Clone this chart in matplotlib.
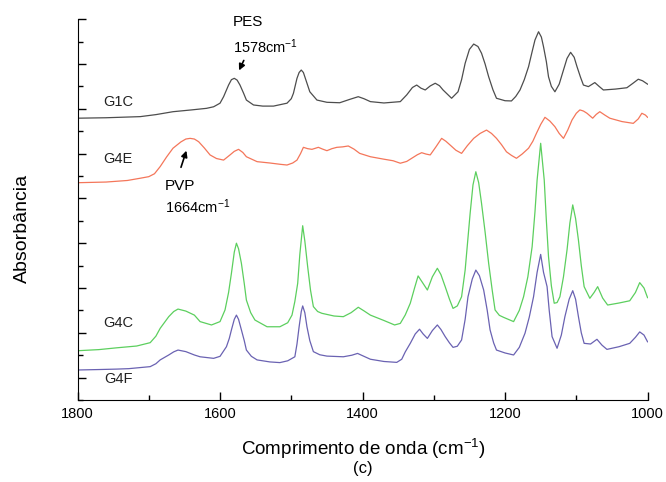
import matplotlib
matplotlib.use('Agg')
import matplotlib.pyplot as plt
from matplotlib.ticker import MultipleLocator

#+++++++++++++++++++++++++++++++++++++++++++++++++++++++++++++++++++++++++++++#

plt.rcParams['font.family'] = ['Liberation Sans', 'DejaVu Sans']
plt.rcParams['mathtext.default'] = 'regular'

# wavenumber (cm-1) and absorbance (stacked, arbitrary units)
wn_g1c = [1800, 1760, 1712, 1690, 1666, 1640, 1619, 1609, 1600, 1595,
          1588, 1584, 1580, 1576, 1572, 1567, 1563, 1553, 1540, 1525,
          1506, 1500, 1497, 1492, 1489, 1486, 1483, 1481, 1474, 1464,
          1450, 1432, 1418, 1406, 1398, 1389, 1370, 1347, 1338, 1330,
          1324, 1318, 1312, 1305, 1298, 1292, 1287, 1275, 1266, 1261,
          1256, 1250, 1244, 1238, 1233, 1228, 1223, 1217, 1212, 1200,
          1191, 1185, 1179, 1173, 1167, 1162, 1158, 1153, 1149, 1146,
          1142, 1139, 1135, 1130, 1124, 1118, 1113, 1108, 1103, 1099,
          1094, 1090, 1083, 1074, 1068, 1062, 1045, 1029, 1020, 1013,
          1007, 1000]
ab_g1c = [11.58, 11.60, 11.65, 11.74, 11.87, 11.95, 12.02, 12.09, 12.25, 12.54,
          13.06, 13.30, 13.36, 13.28, 13.06, 12.70, 12.39, 12.17, 12.12, 12.12,
          12.25, 12.45, 12.69, 13.36, 13.62, 13.73, 13.62, 13.43, 12.76, 12.39,
          12.29, 12.27, 12.42, 12.54, 12.45, 12.32, 12.26, 12.32, 12.62, 12.95,
          13.06, 12.92, 12.84, 13.02, 13.14, 13.03, 12.84, 12.47, 12.76, 13.30,
          14.03, 14.65, 14.89, 14.78, 14.48, 14.00, 13.43, 12.85, 12.47, 12.36,
          12.35, 12.55, 12.84, 13.30, 13.88, 14.55, 15.07, 15.44, 15.20, 14.77,
          14.10, 13.43, 13.00, 12.76, 13.10, 13.73, 14.25, 14.52, 14.30, 13.88,
          13.40, 13.06, 12.99, 13.17, 13.00, 12.84, 12.88, 12.94, 13.15, 13.32,
          13.25, 13.10]

wn_g4e = [1800, 1760, 1730, 1712, 1700, 1692, 1684, 1675, 1666, 1655,
          1648, 1642, 1636, 1630, 1622, 1614, 1605, 1595, 1586, 1580,
          1574, 1568, 1563, 1548, 1530, 1515, 1506, 1498, 1492, 1487,
          1483, 1477, 1471, 1466, 1462, 1456, 1450, 1443, 1436, 1428,
          1420, 1412, 1404, 1389, 1370, 1357, 1347, 1338, 1331, 1323,
          1317, 1311, 1305, 1297, 1289, 1283, 1277, 1269, 1261, 1253,
          1244, 1235, 1226, 1219, 1212, 1205, 1198, 1191, 1184, 1176,
          1167, 1161, 1156, 1150, 1144, 1137, 1130, 1124, 1118, 1112,
          1106, 1100, 1095, 1090, 1085, 1077, 1072, 1067, 1060, 1053,
          1036, 1020, 1013, 1008, 1003, 1000]
ab_g4e = [8.70, 8.73, 8.80, 8.90, 8.97, 9.10, 9.42, 9.85, 10.24, 10.52,
          10.65, 10.68, 10.65, 10.53, 10.25, 9.94, 9.78, 9.71, 9.94, 10.10,
          10.19, 10.05, 9.86, 9.64, 9.58, 9.52, 9.49, 9.58, 9.71, 10.00,
          10.28, 10.22, 10.19, 10.24, 10.28, 10.20, 10.13, 10.22, 10.28, 10.30,
          10.34, 10.20, 10.01, 9.86, 9.75, 9.68, 9.57, 9.65, 9.79, 9.95,
          10.04, 9.98, 9.94, 10.30, 10.68, 10.55, 10.38, 10.15, 10.01, 10.35,
          10.68, 10.90, 11.05, 10.90, 10.68, 10.40, 10.08, 9.92, 9.79, 9.98,
          10.24, 10.55, 10.90, 11.30, 11.62, 11.45, 11.20, 10.90, 10.68, 11.05,
          11.50, 11.80, 11.95, 11.90, 11.80, 11.58, 11.75, 11.87, 11.72, 11.58,
          11.43, 11.35, 11.55, 11.80, 11.72, 11.62]

wn_g4c = [1800, 1770, 1745, 1717, 1698, 1690, 1684, 1672, 1665, 1659,
          1648, 1636, 1628, 1612, 1600, 1593, 1588, 1584, 1580, 1577,
          1574, 1570, 1566, 1563, 1557, 1551, 1534, 1516, 1505, 1499,
          1495, 1491, 1488, 1484, 1481, 1477, 1473, 1469, 1463, 1457,
          1440, 1427, 1416, 1406, 1398, 1389, 1370, 1355, 1347, 1340,
          1333, 1327, 1322, 1316, 1309, 1302, 1295, 1290, 1284, 1278,
          1273, 1267, 1261, 1256, 1249, 1245, 1241, 1237, 1233, 1228,
          1223, 1218, 1214, 1208, 1202, 1188, 1180, 1174, 1168, 1162,
          1158, 1155, 1150, 1145, 1142, 1139, 1135, 1131, 1127, 1123,
          1118, 1113, 1109, 1105, 1101, 1097, 1093, 1089, 1081, 1075,
          1070, 1063, 1056, 1040, 1025, 1017, 1011, 1005, 1000]
ab_g4c = [1.20, 1.25, 1.33, 1.41, 1.56, 1.85, 2.20, 2.72, 2.95, 3.06,
          2.97, 2.79, 2.50, 2.35, 2.50, 3.02, 3.80, 4.66, 5.60, 6.00,
          5.75, 5.10, 4.20, 3.46, 2.90, 2.57, 2.27, 2.27, 2.45, 2.79,
          3.40, 4.21, 5.50, 6.78, 6.10, 4.95, 3.90, 3.17, 2.95, 2.87,
          2.75, 2.72, 2.90, 3.14, 2.98, 2.79, 2.55, 2.35, 2.42, 2.80,
          3.32, 4.00, 4.54, 4.25, 3.91, 4.50, 4.88, 4.60, 4.06, 3.50,
          3.09, 3.20, 3.61, 4.80, 7.33, 8.60, 9.19, 8.70, 7.78, 6.50,
          5.10, 3.90, 3.02, 2.78, 2.69, 2.50, 3.00, 3.61, 4.50, 5.84,
          7.40, 8.82, 10.46, 8.82, 7.00, 5.40, 4.10, 3.32, 3.35, 3.61,
          4.50, 5.70, 6.90, 7.71, 7.10, 6.14, 5.00, 4.06, 3.54, 3.80,
          4.06, 3.55, 3.24, 3.33, 3.43, 3.80, 4.24, 4.00, 3.57]

wn_g4f = [1800, 1770, 1745, 1728, 1698, 1690, 1684, 1672, 1665, 1659,
          1648, 1636, 1628, 1609, 1600, 1591, 1587, 1584, 1580, 1577,
          1574, 1570, 1566, 1563, 1556, 1548, 1530, 1516, 1505, 1495,
          1492, 1489, 1486, 1484, 1481, 1478, 1474, 1469, 1460, 1450,
          1427, 1415, 1407, 1398, 1389, 1370, 1352, 1345, 1340, 1333,
          1326, 1320, 1315, 1309, 1302, 1295, 1290, 1284, 1278, 1273,
          1267, 1261, 1256, 1252, 1246, 1241, 1236, 1230, 1225, 1221,
          1216, 1212, 1200, 1188, 1180, 1172, 1166, 1160, 1155, 1150,
          1146, 1141, 1138, 1134, 1127, 1121, 1116, 1110, 1105, 1101,
          1097, 1093, 1089, 1080, 1071, 1064, 1057, 1040, 1025, 1017,
          1011, 1005, 1000]
ab_g4f = [0.34, 0.36, 0.38, 0.40, 0.49, 0.62, 0.79, 1.01, 1.15, 1.23,
          1.16, 1.01, 0.93, 0.86, 0.95, 1.38, 1.75, 2.13, 2.60, 2.79,
          2.60, 2.13, 1.65, 1.23, 0.95, 0.79, 0.70, 0.67, 0.75, 0.93,
          1.50, 2.27, 2.95, 3.20, 2.90, 2.27, 1.65, 1.16, 1.02, 0.96,
          0.93, 1.00, 1.08, 0.95, 0.82, 0.72, 0.68, 0.82, 1.15, 1.53,
          1.95, 2.16, 1.95, 1.75, 2.10, 2.35, 2.15, 1.83, 1.55, 1.35,
          1.40, 1.68, 2.60, 3.61, 4.40, 4.80, 4.55, 3.91, 3.00, 2.13,
          1.55, 1.23, 1.10, 1.01, 1.35, 1.98, 2.70, 3.61, 4.70, 5.50,
          4.70, 4.06, 3.00, 1.83, 1.31, 1.90, 2.72, 3.50, 3.88, 3.50,
          2.72, 2.00, 1.53, 1.50, 1.71, 1.45, 1.26, 1.38, 1.53, 1.80,
          2.04, 1.90, 1.60]

names = ['G1C', 'G4E', 'G4C', 'G4F']
colors = ['#4d4d4d', '#f4765a', '#5ccf5e', '#6a62b2']
label_y = [12.30, 9.76, 2.44, -0.06]

#+++++++++++++++++++++++++++++++++++++++++++++++++++++++++++++++++++++++++++++#

fig = plt.figure(figsize=(6.66, 4.82), dpi=100)
ax = fig.add_axes([0.1164, 0.1701, 0.8559, 0.7901])

series = [(wn_g1c, ab_g1c), (wn_g4e, ab_g4e), (wn_g4c, ab_g4c), (wn_g4f, ab_g4f)]
for (wn, ab), name, c, ly in zip(series, names, colors, label_y):
    ax.plot(wn, ab, color=c, lw=0.9, solid_joinstyle='round')
    ax.text(1743, ly, name, fontsize=10.5, ha='center', va='center', color='#222222')

ax.set_xlim(1800, 1000)
ax.set_ylim(-1, 16)

ax.spines['top'].set_visible(False)
ax.spines['right'].set_visible(False)

ax.xaxis.set_major_locator(MultipleLocator(200))
ax.xaxis.set_minor_locator(MultipleLocator(100))
ax.yaxis.set_major_locator(MultipleLocator(2))
ax.yaxis.set_minor_locator(MultipleLocator(1))
ax.tick_params(which='both', direction='in')
ax.tick_params(which='major', length=6, width=1)
ax.tick_params(which='minor', length=3.5, width=1)
ax.tick_params(axis='x', labelsize=10.5, pad=5)
ax.set_yticklabels([])

# peak annotations
ax.text(1582, 15.88, 'PES', fontsize=11, ha='left', va='center')
ax.text(1582, 14.76, '1578cm$^{-1}$', fontsize=10.5, ha='left', va='center')
ax.annotate('', xy=(1575, 13.6), xytext=(1565, 14.27),
            arrowprops=dict(arrowstyle='-|>', color='black', lw=1.2, mutation_scale=9))

ax.text(1677, 8.55, 'PVP', fontsize=11, ha='left', va='center')
ax.text(1677, 7.62, '1664cm$^{-1}$', fontsize=10.5, ha='left', va='center')
ax.annotate('', xy=(1646, 10.25), xytext=(1656, 9.27),
            arrowprops=dict(arrowstyle='-|>', color='black', lw=1.2, mutation_scale=9))

fig.text(0.033, 0.527, 'Absorbância', rotation=90, fontsize=14, ha='center', va='center')
fig.text(0.545, 0.068, 'Comprimento de onda (cm$^{-1}$)', fontsize=13.5, ha='center', va='center')
fig.text(0.545, 0.027, '(c)', fontsize=12, ha='center', va='center')

fig.savefig('out.png', dpi=100)
